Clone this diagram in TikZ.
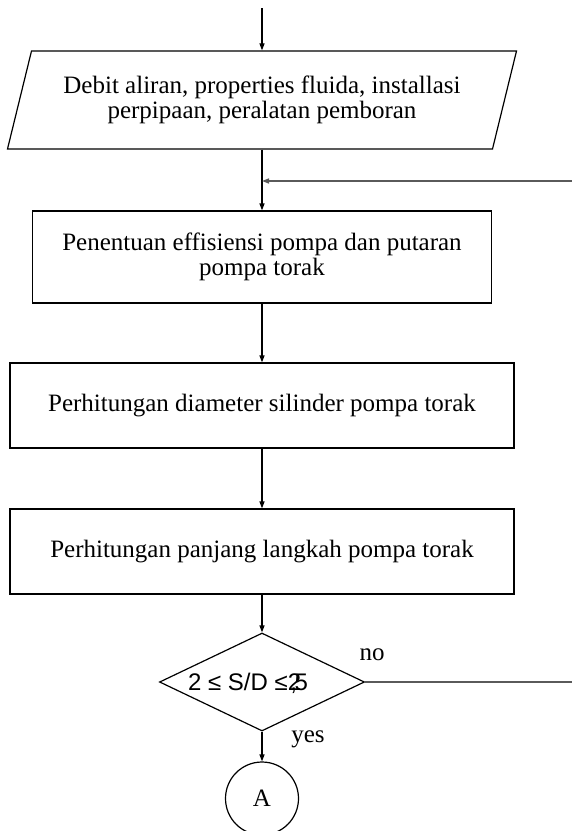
\documentclass[tikz,border=0pt]{standalone}
\usepackage{fontspec}
\setmainfont{Liberation Serif}
\newfontfamily\arialfont{Liberation Sans}
\usetikzlibrary{shapes.geometric,arrows.meta}
\definecolor{linegray}{HTML}{5A5A5A}

\tikzset{
  flowline/.style={line width=1.2pt, -{Triangle[length=7pt,width=5pt]}},
  backline/.style={line width=1.4pt, draw=linegray},
  bodyfont/.style={font=\fontsize{25}{25}\selectfont},
  procbox/.style={draw, line width=1.2pt, rectangle, inner sep=0pt,
                  align=center, bodyfont},
}

\begin{document}
\begin{tikzpicture}[x=1pt,y=-1pt]
  \useasboundingbox (0,0) rectangle (572,831);
  \clip (0,0) rectangle (572,831);

  % input data, drawn as a slanted parallelogram
  \node[trapezium, trapezium left angle=63.4, trapezium right angle=116.6,
        trapezium stretches body, draw, line width=1.2pt,
        minimum width=509pt, minimum height=98pt, inner sep=0pt,
        align=center, bodyfont] (input) at (262,100)
        {Debit aliran, properties fluida, installasi\\perpipaan, peralatan pemboran};

  \node[procbox, minimum width=459pt, minimum height=92pt] (effisiensi) at (262,257)
        {Penentuan effisiensi pompa dan putaran\\pompa torak};
  \node[procbox, minimum width=504pt, minimum height=85pt] (diameter) at (262,405.5)
        {Perhitungan diameter silinder pompa torak};
  \node[procbox, minimum width=504pt, minimum height=85pt] (langkah) at (262,551.5)
        {Perhitungan panjang langkah pompa torak};

  % check of the stroke ratio
  \node[diamond, draw, line width=1.2pt, aspect=2.09,
        minimum width=205pt, minimum height=98pt, inner sep=0pt] (cek) at (262,682) {};
  \node[font=\arialfont\fontsize{24}{28}\selectfont] (cektext) at (248,683)
        {2 ≤ S/D ≤2\kern-0.45em,\kern-0.1em5};
  \node[bodyfont] (no) at (372,655) {no};
  \node[bodyfont] (yes) at (308,739) {yes};

  \node[circle, draw, line width=1.2pt, minimum size=73pt, inner sep=0pt,
        bodyfont] (A) at (262,798.5) {A};

  \coordinate (start) at (262,8);
  \coordinate (loopin) at (572,181);
  \coordinate (loopout) at (572,682);

  \draw[flowline] (start) -- (start |- input.north);
  \draw[flowline] (input.south -| input.center) -- (effisiensi.north);
  \draw[backline, -{Triangle[length=7pt,width=5pt]}, fill=linegray]
        (loopin) -- (loopin -| effisiensi.north);
  \draw[flowline] (effisiensi) -- (diameter);
  \draw[flowline] (diameter) -- (langkah);
  \draw[flowline] (langkah) -- (cek);
  \draw[backline] (cek.east) -- (loopout);
  \draw[flowline] (cek) -- (A);
\end{tikzpicture}
\end{document}
